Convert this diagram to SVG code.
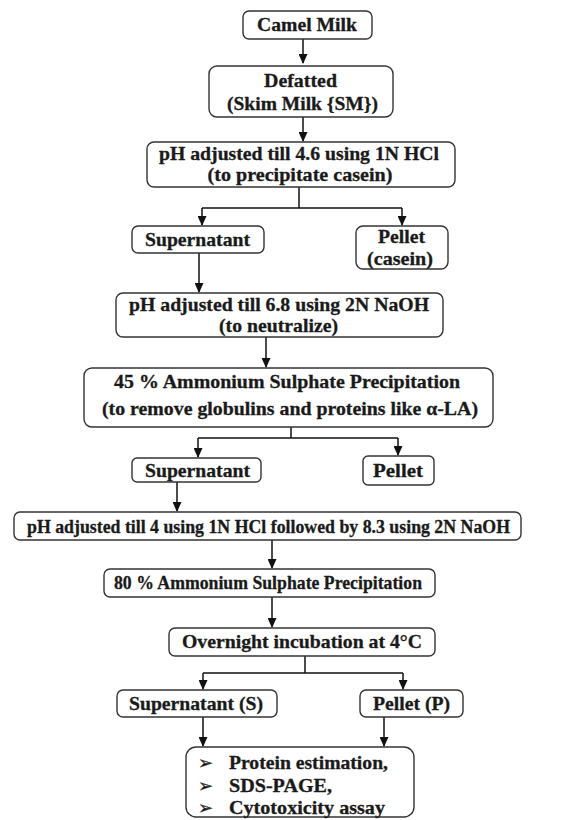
<svg xmlns="http://www.w3.org/2000/svg" width="582" height="820" viewBox="0 0 582 820">
<style>
.box{fill:#fff;stroke:#333;stroke-width:1.4}
text{font-family:"Liberation Serif","Times New Roman",serif;font-weight:bold;font-size:19px;fill:#1a1a1a;stroke:#1a1a1a;stroke-width:0.3;text-anchor:middle}
.c{fill:none;stroke:#111;stroke-width:1.5}
.b{font-family:"DejaVu Sans",sans-serif;font-size:18px;font-weight:bold;text-anchor:start}
.l{text-anchor:start}
</style>
<defs>
<marker id="ah" markerUnits="userSpaceOnUse" markerWidth="9" markerHeight="10" refX="4.5" refY="9" orient="0">
<path d="M0,0 L9,0 L4.5,10 z" fill="#111"/>
</marker>
</defs>
<rect width="582" height="820" fill="#fff"/>
<g id="connectors">
<path class="c" d="M303,39 V63" marker-end="url(#ah)"/>
<path class="c" d="M303,117 V141" marker-end="url(#ah)"/>
<path class="c" d="M299,187 V208 M202,208 H402"/>
<path class="c" d="M202,208 V225" marker-end="url(#ah)"/>
<path class="c" d="M402,208 V225" marker-end="url(#ah)"/>
<path class="c" d="M199,253 V292" marker-end="url(#ah)"/>
<path class="c" d="M266,337 V367" marker-end="url(#ah)"/>
<path class="c" d="M291,427 V438 M198,438 H398"/>
<path class="c" d="M198,438 V457" marker-end="url(#ah)"/>
<path class="c" d="M398,438 V455" marker-end="url(#ah)"/>
<path class="c" d="M177,482 V511" marker-end="url(#ah)"/>
<path class="c" d="M272,540 V568" marker-end="url(#ah)"/>
<path class="c" d="M272,597 V627" marker-end="url(#ah)"/>
<path class="c" d="M305,656 V673 M203,673 H403"/>
<path class="c" d="M203,673 V689" marker-end="url(#ah)"/>
<path class="c" d="M403,673 V689" marker-end="url(#ah)"/>
<path class="c" d="M203,717 V746" marker-end="url(#ah)"/>
<path class="c" d="M384,717 V746" marker-end="url(#ah)"/>
</g>
<g id="camel"><rect class="box" x="243" y="11" width="129" height="28" rx="6"/><text x="307" y="31" textLength="100" lengthAdjust="spacingAndGlyphs">Camel Milk</text></g>
<g id="defatted"><rect class="box" x="209" y="66" width="184" height="51" rx="8"/><text x="300.5" y="87" textLength="73" lengthAdjust="spacingAndGlyphs">Defatted</text><text x="302.5" y="110" textLength="151" lengthAdjust="spacingAndGlyphs">(Skim Milk {SM})</text></g>
<g id="ph1"><rect class="box" x="147" y="142" width="308" height="45" rx="7"/><text x="299" y="160" textLength="280" lengthAdjust="spacingAndGlyphs">pH adjusted till 4.6 using 1N HCl</text><text x="300" y="181" textLength="185" lengthAdjust="spacingAndGlyphs">(to precipitate casein)</text></g>
<g id="sup1"><rect class="box" x="132" y="226" width="132" height="27" rx="6"/><text x="197.5" y="246" textLength="105" lengthAdjust="spacingAndGlyphs">Supernatant</text></g>
<g id="pellet1"><rect class="box" x="356" y="226" width="92" height="43" rx="7"/><text x="401.5" y="243" textLength="47" lengthAdjust="spacingAndGlyphs">Pellet</text><text x="400" y="265" textLength="66" lengthAdjust="spacingAndGlyphs">(casein)</text></g>
<g id="ph2"><rect class="box" x="116" y="293" width="327" height="44" rx="7"/><text x="279" y="311" textLength="300" lengthAdjust="spacingAndGlyphs">pH adjusted till 6.8 using 2N NaOH</text><text x="278.5" y="332" textLength="119" lengthAdjust="spacingAndGlyphs">(to neutralize)</text></g>
<g id="as45"><rect class="box" x="84" y="368" width="409" height="59" rx="8"/><text x="287" y="388" textLength="346" lengthAdjust="spacingAndGlyphs">45 % Ammonium Sulphate Precipitation</text><text x="290" y="415" textLength="376" lengthAdjust="spacingAndGlyphs">(to remove globulins and proteins like α-LA)</text></g>
<g id="sup2"><rect class="box" x="132" y="458" width="129" height="24" rx="5"/><text x="197.5" y="477" textLength="105" lengthAdjust="spacingAndGlyphs">Supernatant</text></g>
<g id="pellet2"><rect class="box" x="363" y="456" width="71" height="29" rx="5"/><text x="398" y="477" textLength="50" lengthAdjust="spacingAndGlyphs">Pellet</text></g>
<g id="ph3"><rect class="box" x="14" y="512" width="507" height="28" rx="6"/><text x="268.5" y="533" textLength="483" lengthAdjust="spacingAndGlyphs">pH adjusted till 4 using 1N HCl followed by 8.3 using 2N NaOH</text></g>
<g id="as80"><rect class="box" x="104" y="569" width="331" height="28" rx="6"/><text x="268" y="589" textLength="308" lengthAdjust="spacingAndGlyphs">80 % Ammonium Sulphate Precipitation</text></g>
<g id="overnight"><rect class="box" x="169" y="628" width="266" height="28" rx="6"/><text x="302" y="648" textLength="240" lengthAdjust="spacingAndGlyphs">Overnight incubation at 4°C</text></g>
<g id="supS"><rect class="box" x="117" y="690" width="160" height="27" rx="6"/><text x="196" y="710" textLength="134" lengthAdjust="spacingAndGlyphs">Supernatant (S)</text></g>
<g id="pelletP"><rect class="box" x="360" y="690" width="103" height="27" rx="6"/><text x="411.5" y="710" textLength="77" lengthAdjust="spacingAndGlyphs">Pellet (P)</text></g>
<g id="final"><rect class="box" x="186" y="747" width="228" height="70" rx="10"/>
<text class="b" x="198" y="769" textLength="15" lengthAdjust="spacingAndGlyphs">➢</text><text class="l" x="229" y="769" textLength="159" lengthAdjust="spacingAndGlyphs">Protein estimation,</text>
<text class="b" x="198" y="792" textLength="15" lengthAdjust="spacingAndGlyphs">➢</text><text class="l" x="229" y="792" textLength="103" lengthAdjust="spacingAndGlyphs">SDS-PAGE,</text>
<text class="b" x="198" y="814" textLength="15" lengthAdjust="spacingAndGlyphs">➢</text><text class="l" x="229" y="814" textLength="156" lengthAdjust="spacingAndGlyphs">Cytotoxicity assay</text>
</g>
</svg>
